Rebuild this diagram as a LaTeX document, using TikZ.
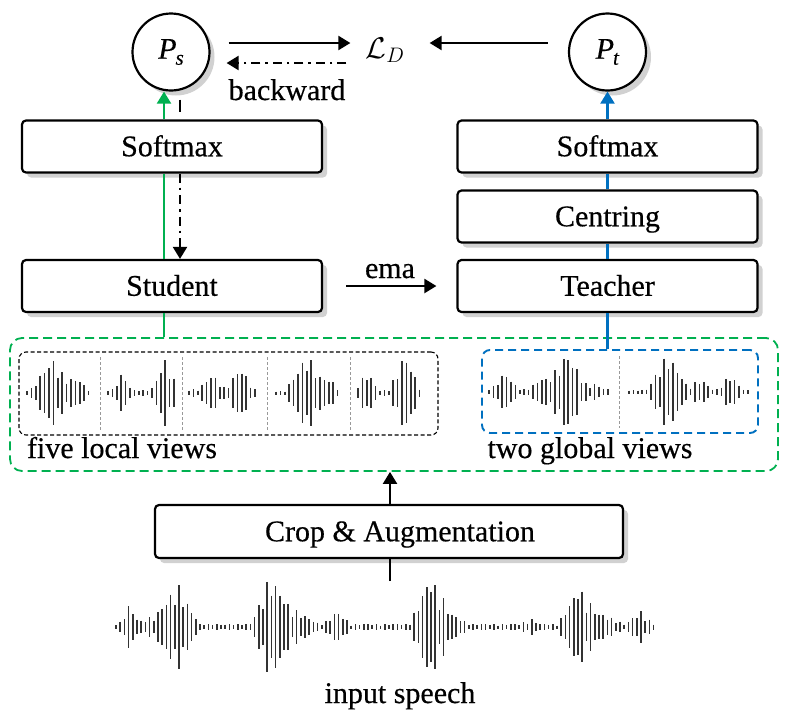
\documentclass[tikz,border=0pt]{standalone}
\usepackage{fix-cm}
\usepackage{fontspec}
\setmainfont{Liberation Serif}[FakeBold=0.4]
\usetikzlibrary{arrows.meta,shadows,calc}
\definecolor{mygreen}{HTML}{00B050}
\definecolor{myblue}{HTML}{0070C0}
\newcommand\wavebars[5]{%
  \foreach \i in {0,...,#2}{%
    \pgfmathsetmacro\wx{#1+\i*#3}%
    \pgfmathsetmacro\amp{max(1.5,(#5)*(0.45+0.55*abs(sin(\i*77+13))))}%
    \draw[wavebar] (\wx,#4-\amp) -- (\wx,#4+\amp);
  }}
\newcommand\probsym[1]{\textit{P}\kern-1pt\raisebox{-6pt}{\fontsize{21}{21}\selectfont\textit{#1}}}
\begin{document}
\begin{tikzpicture}[x=1pt,y=-1pt,
  font=\fontsize{30}{35}\selectfont,
  declare function={bump(\p,\c,\h,\w)=\h*max(0,1-abs(\p-\c)/\w);},
  shad/.style={drop shadow={shadow xshift=5pt,shadow yshift=-5pt,fill=black!18,opacity=1}},
  box/.style={draw,line width=2.2pt,rounded corners=4pt,fill=white,minimum width=300pt,minimum height=52pt,text height=19.5pt,text depth=0pt,shad},
  circ/.style={circle,draw,line width=2.2pt,fill=white,minimum size=77pt,inner sep=0pt,shad},
  tip/.style={-{Triangle[length=12pt,width=14pt]}},
  arr/.style={line width=2.2pt,tip},
  ddarr/.style={line width=2.2pt,tip,dash pattern=on 9pt off 5pt on 2.5pt off 5pt},
  gline/.style={line width=2.2pt,mygreen},
  bline/.style={line width=2.2pt,myblue},
  wavebar/.style={line width=1.7pt,black!80},
  sep/.style={line width=0.8pt,black!40,dash pattern=on 3pt off 2pt},
]
\useasboundingbox (0,0) rectangle (792,724);

% top row
\node[circ] (Ps) at (171,52) {\probsym{s}};
\node[circ] (Pt) at (607.5,52) {\probsym{t}};
\node[inner sep=0pt] (LD) at (385,50) {$\mathcal{L}_D$};
\node[anchor=base] (bw) at (287,100) {backward};

% boxes
\node[box] (smaxS) at (172,146.5) {Softmax};
\node[box] (student) at (172,286) {Student};
\node[box] (smaxT) at (607.5,146.5) {Softmax};
\node[box] (centr) at (607.5,216.5) {Centring};
\node[box] (teacher) at (607.5,286) {Teacher};
\node[anchor=base] (ema) at (390,278) {ema};

% views
\node[draw=mygreen,line width=1.8pt,dash pattern=on 9pt off 5pt,rounded corners=12pt,minimum width=768pt,minimum height=133pt] (views) at (394,404.5) {};
\node[draw,line width=1.1pt,dash pattern=on 4pt off 2.5pt,rounded corners=7pt,minimum width=419pt,minimum height=83pt] (lbox) at (228.5,393.5) {};
\node[draw=myblue,line width=1.9pt,dash pattern=on 8pt off 5pt,rounded corners=8pt,minimum width=276pt,minimum height=83pt] (gbox) at (620,391.5) {};
\node[anchor=base] (five) at (122,458) {five local views};
\node[anchor=base] (two) at (590,458) {two global views};

% crop
\node[box,minimum width=468pt,minimum height=53pt] (crop) at (389,531.5) {\hspace*{22pt}Crop \& Augmentation};
\node[anchor=base] (inp) at (400,703) {input speech};
\coordinate (wtop) at (390,581);

% connectors top
\coordinate (fa) at ([yshift=9pt]Ps.east);
\draw[arr,shorten <=18pt,shorten >=15pt] (fa) -- (fa -| LD.west);
\coordinate (ba) at ([yshift=-11pt]Ps.east);
\draw[ddarr,shorten <=19pt,shorten >=16pt] (ba -| LD.west) -- (ba);
\coordinate (ta) at ([yshift=9pt]Pt.west);
\draw[arr,shorten <=20pt,shorten >=25pt] (ta) -- (ta -| LD.east);

% student column
\coordinate (g1) at ([xshift=-8pt]smaxS.north);
\draw[gline,tip] (g1) -- (g1 |- Ps.south);
\draw[gline] (smaxS.south -| g1) -- (student.north -| g1);
\draw[gline] (student.south -| g1) -- (views.north -| g1);
\coordinate (d1) at ([xshift=8pt]smaxS.north);
\draw[line width=2.2pt,dash pattern=on 12pt off 30pt] (d1 |- Ps.south) ++(0,8) -- (d1);
\draw[ddarr] (smaxS.south -| d1) -- (student.north -| d1);

% teacher column
\draw[bline,tip] (smaxT.north) -- (Pt.south);
\draw[bline] (centr.north) -- (smaxT.south);
\draw[bline] (teacher.north) -- (centr.south);
\draw[bline] (teacher.south) -- (teacher.south |- gbox.north);

% ema
\draw[arr,shorten <=23pt,shorten >=20pt] (student.east) -- (teacher.west);

% crop connectors
\draw[arr] (crop.north -| wtop) -- (views.south -| wtop);
\draw[line width=2.2pt] (wtop) -- (crop.south -| wtop);

% separators
\foreach \sx in {100,182,267,350} \draw[sep] (\sx,357) -- (\sx,431);
\draw[sep] (619,356) -- (619,428);

% waveforms: local views
\wavebars{27}{14}{4.4}{393}{3+bump(\wx,52,33,22)+bump(\wx,77,14,12)}
\wavebars{108}{15}{4.4}{393}{3+bump(\wx,122,18,10)+bump(\wx,165,32,14)}
\wavebars{189}{15}{4.4}{393}{4+bump(\wx,212,16,14)+bump(\wx,240,24,14)}
\wavebars{276}{14}{4.4}{393}{2+bump(\wx,307,38,22)+bump(\wx,330,14,10)}
\wavebars{358}{14}{4.4}{393}{3+bump(\wx,367,20,12)+bump(\wx,405,38,16)}
% global views
\wavebars{489}{27}{4.4}{392}{3+bump(\wx,505,18,14)+bump(\wx,542,12,15)+bump(\wx,567,38,22)+bump(\wx,595,6,10)}
\wavebars{629}{27}{4.4}{392}{2+bump(\wx,668,38,22)+bump(\wx,700,12,14)+bump(\wx,730,16,14)}
% input speech
\wavebars{116}{128}{4.2}{627}{3+bump(\wx,129,20,10)+bump(\wx,178,37,22)+bump(\wx,160,10,30)+bump(\wx,270,44,20)+bump(\wx,290,18,30)+bump(\wx,337,14,14)+bump(\wx,429,44,20)+bump(\wx,445,15,25)+bump(\wx,530,6,10)+bump(\wx,578,37,20)+bump(\wx,600,12,25)+bump(\wx,640,14,14)}
\end{tikzpicture}
\end{document}
